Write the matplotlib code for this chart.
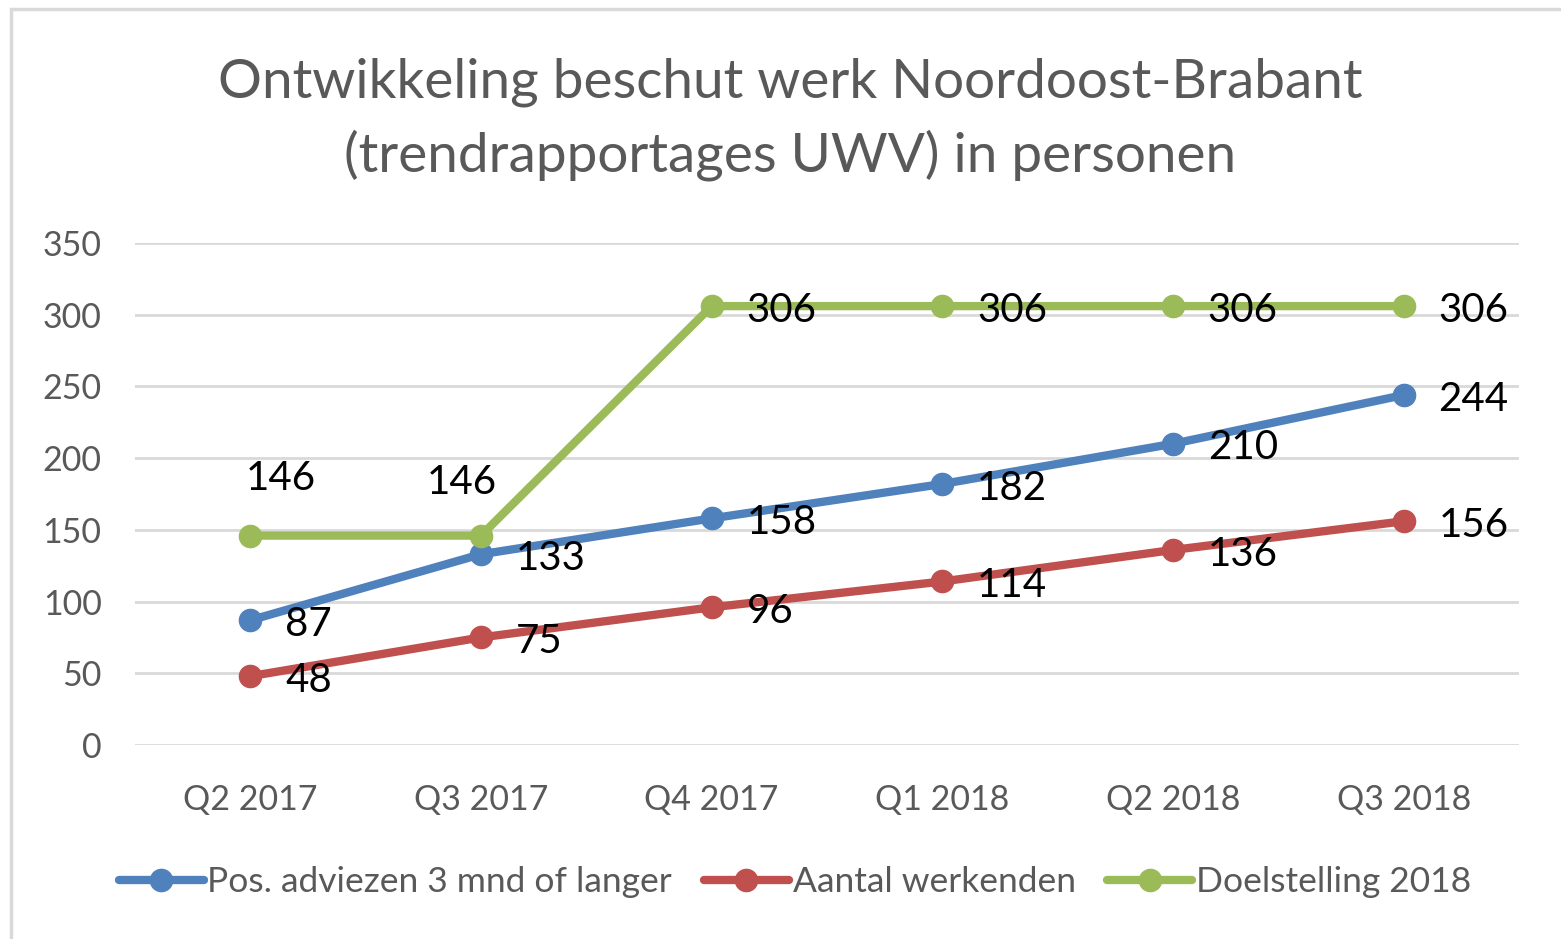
import matplotlib
matplotlib.use("Agg")
import matplotlib.pyplot as plt
from matplotlib.patches import Rectangle

categories = ["Q2 2017", "Q3 2017", "Q4 2017", "Q1 2018", "Q2 2018", "Q3 2018"]
pos_adviezen = [87, 133, 158, 182, 210, 244]
aantal_werkenden = [48, 75, 96, 114, 136, 156]
doelstelling = [146, 146, 306, 306, 306, 306]
series_names = ["Pos. adviezen 3 mnd of langer", "Aantal werkenden", "Doelstelling 2018"]
colors = ["#4F81BD", "#C0504D", "#9BBB59"]
yticks = [0, 50, 100, 150, 200, 250, 300, 350]

plt.rcParams['font.family'] = ['Lato', 'DejaVu Sans']

W, H = 1561, 939
fig = plt.figure(figsize=(W / 100, H / 100), dpi=100)
fig.patches.append(Rectangle((11 / W, -0.02), 1.1, 1 - 9 / H + 0.02, transform=fig.transFigure,
                             fill=False, edgecolor="#D9D9D9", linewidth=2.5))

ax = fig.add_axes([135 / W, 1 - 745 / H, 1384 / W, (745 - 243) / H])
x = list(range(len(categories)))

for vals, name, c in zip([pos_adviezen, aantal_werkenden, doelstelling], series_names, colors):
    ax.plot(x, vals, color=c, linewidth=6, marker="o", markersize=16,
            solid_capstyle="round", label=name, zorder=3)

ax.set_xlim(-0.5, 5.5)
ax.set_ylim(0, 350)
ax.set_yticks(yticks)
ax.set_xticks(x)
ax.set_xticklabels(categories)
ax.grid(axis="y", color="#D9D9D9", linewidth=2)
ax.set_axisbelow(True)
for s in ax.spines.values():
    s.set_visible(False)
ax.tick_params(length=0, labelsize=24.5, colors="#595959")
ax.tick_params(axis="y", pad=24)
ax.tick_params(axis="x", pad=28)

lbl = dict(fontsize=29, color="black", va="center", ha="left", zorder=4)
for i in range(len(categories)):
    ax.annotate(str(pos_adviezen[i]), (x[i], pos_adviezen[i]), xytext=(25, -3),
                textcoords="offset points", **lbl)
    ax.annotate(str(aantal_werkenden[i]), (x[i], aantal_werkenden[i]), xytext=(25, -3),
                textcoords="offset points", **lbl)
    if i >= 2:
        ax.annotate(str(doelstelling[i]), (x[i], doelstelling[i]), xytext=(25, -3),
                    textcoords="offset points", **lbl)
ax.annotate(str(doelstelling[0]), (x[0], doelstelling[0]), xytext=(22, 41),
            textcoords="offset points", fontsize=29, ha="center", va="center")
ax.annotate(str(doelstelling[1]), (x[1], doelstelling[1]), xytext=(-14, 38),
            textcoords="offset points", fontsize=29, ha="center", va="center")

fig.text(790 / W, 1 - 82 / H, "Ontwikkeling beschut werk Noordoost-Brabant", ha="center",
         va="center", fontsize=39.5, color="#595959")
fig.text(790 / W, 1 - 155 / H, "(trendrapportages UWV) in personen", ha="center",
         va="center", fontsize=39.5, color="#595959")

leg = fig.legend(loc="center", bbox_to_anchor=(795 / W, 1 - 882 / H), ncol=3, frameon=False,
                 fontsize=25.5, labelcolor="#595959", handlelength=2.4, handletextpad=0.1,
                 columnspacing=0.9)

fig.savefig("out.png", dpi=100, facecolor="white")
